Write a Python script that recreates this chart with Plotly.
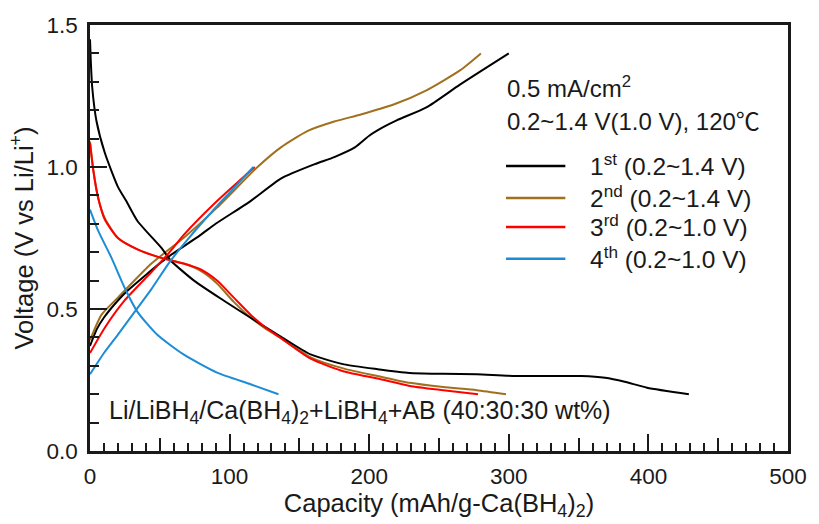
import plotly.graph_objects as go

# Galvanostatic cycles of Li/LiBH4/Ca(BH4)2+LiBH4+AB cell
# capacity in mAh/g-Ca(BH4)2, voltage in V vs Li/Li+

c1_dis_x = [0, 0.5, 1.6, 4.7, 10.6, 20, 26, 34, 51, 58, 74.5, 95.7, 114.7, 136, 158, 182,
            206, 229, 253, 277, 305, 352, 369, 383, 399, 429]
c1_dis_y = [1.45, 1.38, 1.28, 1.16, 1.05, 0.93, 0.88, 0.81, 0.716, 0.67, 0.60, 0.53, 0.47,
            0.405, 0.34, 0.305, 0.288, 0.275, 0.272, 0.27, 0.264, 0.264, 0.258, 0.244, 0.223, 0.20]
c1_chg_x = [0, 5, 10, 20, 27, 40, 55, 79, 90, 115, 137, 161, 175, 190, 200, 210, 220, 241, 265, 300]
c1_chg_y = [0.37, 0.43, 0.47, 0.53, 0.565, 0.62, 0.68, 0.76, 0.80, 0.88, 0.96, 1.01, 1.035, 1.07,
            1.11, 1.14, 1.165, 1.21, 1.29, 1.40]

c2_dis_x = [0, 2.4, 5.9, 10.6, 20, 34, 51, 67, 79, 91, 103, 115, 126, 136, 158, 182, 206, 229, 253, 277, 298]
c2_dis_y = [1.09, 0.99, 0.89, 0.82, 0.75, 0.71, 0.68, 0.66, 0.635, 0.59, 0.525, 0.47, 0.43, 0.40,
            0.33, 0.29, 0.264, 0.24, 0.225, 0.214, 0.20]
c2_chg_x = [0, 8.3, 20, 44, 67, 91, 120, 137, 156, 175, 194, 217.5, 241, 265, 280]
c2_chg_y = [0.39, 0.48, 0.54, 0.66, 0.75, 0.857, 1.0, 1.07, 1.127, 1.16, 1.185, 1.22, 1.27, 1.34, 1.40]

c3_dis_x = [0, 2.4, 5.9, 10.6, 20, 34, 51, 67, 79, 91, 103, 115, 126, 136, 158, 182, 206, 229, 253, 278]
c3_dis_y = [1.085, 0.986, 0.89, 0.815, 0.75, 0.71, 0.68, 0.66, 0.64, 0.60, 0.54, 0.48, 0.434, 0.40,
            0.325, 0.28, 0.255, 0.229, 0.214, 0.20]
c3_chg_x = [0, 10.6, 24.8, 44, 57, 67, 91, 118]
c3_chg_y = [0.345, 0.434, 0.53, 0.63, 0.70, 0.76, 0.88, 1.0]

c4_dis_x = [0, 5.9, 15.4, 24.8, 34, 48, 67, 91, 115, 135]
c4_dis_y = [0.85, 0.775, 0.68, 0.575, 0.49, 0.41, 0.34, 0.276, 0.235, 0.20]
c4_chg_x = [0, 10, 20, 32, 44, 57, 70, 85, 100, 117]
c4_chg_y = [0.27, 0.345, 0.41, 0.49, 0.57, 0.665, 0.745, 0.83, 0.91, 1.0]

cycle_labels = ["1<sup>st</sup> (0.2~1.4 V)", "2<sup>nd</sup> (0.2~1.4 V)",
                "3<sup>rd</sup> (0.2~1.0 V)", "4<sup>th</sup> (0.2~1.0 V)"]
cycle_colors = ["#000000", "#A0701E", "#FF0000", "#1C8CD6"]

cycles = [
    (c1_dis_x, c1_dis_y, c1_chg_x, c1_chg_y),
    (c2_dis_x, c2_dis_y, c2_chg_x, c2_chg_y),
    (c3_dis_x, c3_dis_y, c3_chg_x, c3_chg_y),
    (c4_dis_x, c4_dis_y, c4_chg_x, c4_chg_y),
]

FONT = "Liberation Sans, Arial, sans-serif"
TXT = "#1a1a1a"

fig = go.Figure()
# draw the later cycles first so cycle 1 ends up on top where they overlap
for i in [1, 0, 2, 3]:
    dx, dy, cx, cy = cycles[i]
    for xs, ys in ((dx, dy), (cx, cy)):
        fig.add_trace(go.Scatter(
            x=xs, y=ys, mode="lines", showlegend=False,
            line=dict(color=cycle_colors[i], width=2, shape="spline", smoothing=0.6),
            hoverinfo="skip"))

# invisible trace to activate the overlay axis carrying the mid ticks
fig.add_trace(go.Scatter(x=[0], y=[0], xaxis="x2", mode="none", showlegend=False, hoverinfo="skip"))

shapes = []
annotations = []

# hand-built legend
leg_y = [0.669, 0.594, 0.526, 0.451]
for lab, col, yy in zip(cycle_labels, cycle_colors, leg_y):
    shapes.append(dict(type="line", xref="paper", yref="paper", x0=0.596, x1=0.681,
                       y0=yy, y1=yy, line=dict(color=col, width=2.5)))
    annotations.append(dict(xref="paper", yref="paper", x=0.7135, y=yy + 0.004, text=lab,
                            showarrow=False, xanchor="left", yanchor="middle",
                            font=dict(family=FONT, size=24.5, color=TXT)))

celsius = "<span style=\"font-family:'Noto Sans CJK KR'\">℃</span>"
annotations += [
    dict(xref="paper", yref="paper", x=0.594, y=0.855, text="0.5 mA/cm<sup>2</sup>",
         showarrow=False, xanchor="left", yanchor="middle",
         font=dict(family=FONT, size=24, color=TXT)),
    dict(xref="paper", yref="paper", x=0.594, y=0.777, text="0.2~1.4 V(1.0 V), 120" + celsius,
         showarrow=False, xanchor="left", yanchor="middle",
         font=dict(family=FONT, size=24, color=TXT)),
    dict(xref="paper", yref="paper", x=0.024, y=0.0915,
         text="Li/LiBH<sub>4</sub>/Ca(BH<sub>4</sub>)<sub>2</sub>+LiBH<sub>4</sub>+AB (40:30:30 wt%)",
         showarrow=False, xanchor="left", yanchor="middle",
         font=dict(family=FONT, size=25, color=TXT)),
]

axis_col = "#1a1a1a"
fig.update_layout(
    width=819, height=524,
    margin=dict(l=90, r=24, t=25, b=73),
    paper_bgcolor="white", plot_bgcolor="white",
    font=dict(family=FONT, size=22.5, color=TXT),
    shapes=shapes, annotations=annotations,
    xaxis=dict(
        range=[0, 500], dtick=100, tick0=0, ticks="inside", ticklen=17, tickwidth=2,
        tickcolor=axis_col, showline=True, linecolor=axis_col, linewidth=2.5, mirror=True,
        showgrid=False, zeroline=False, ticklabelstandoff=3,
        tickfont=dict(family=FONT, size=22.5, color=TXT),
        minor=dict(dtick=10, ticks="inside", ticklen=8, tickwidth=2, tickcolor=axis_col, showgrid=False),
        title=dict(text="Capacity (mAh/g-Ca(BH<sub>4</sub>)<sub>2</sub>)",
                   font=dict(family=FONT, size=25.5, color=TXT), standoff=0),
    ),
    xaxis2=dict(
        range=[0, 500], overlaying="x", anchor="y", side="bottom",
        tickvals=[50, 150, 250, 350, 450], ticks="inside", ticklen=13, tickwidth=2,
        tickcolor=axis_col, showticklabels=False, showline=False, showgrid=False, zeroline=False,
    ),
    yaxis=dict(
        range=[0, 1.5], dtick=0.5, tick0=0, ticks="inside", ticklen=17, tickwidth=2,
        tickcolor=axis_col, showline=True, linecolor=axis_col, linewidth=2.5, mirror=True,
        showgrid=False, zeroline=False, tickformat=".1f", ticklabelstandoff=5,
        tickfont=dict(family=FONT, size=22.5, color=TXT),
        minor=dict(dtick=0.1, ticks="inside", ticklen=9, tickwidth=2, tickcolor=axis_col, showgrid=False),
        title=dict(text="Voltage (V vs Li/Li<sup>+</sup>)",
                   font=dict(family=FONT, size=25.5, color=TXT), standoff=6),
    ),
)

fig.write_html("out.html")
